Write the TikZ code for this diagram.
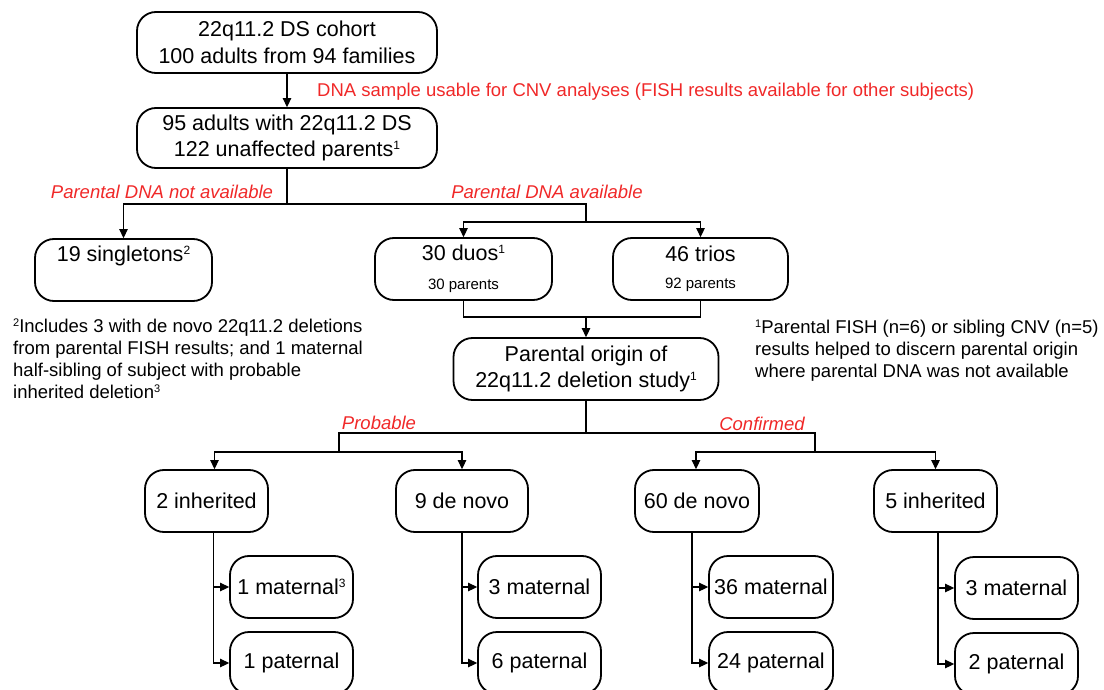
\documentclass[tikz,border=0pt]{standalone}
\usepackage{fontspec}
\setmainfont{Liberation Sans}
\usetikzlibrary{arrows.meta,positioning}
\definecolor{lblred}{HTML}{F02828}

\newcommand\boxsz{\fontsize{21.5}{26.5}\selectfont}
\newcommand\subsz{\fontsize{15}{18}\selectfont}
\newcommand\notesz{\fontsize{18.5}{22}\selectfont}
\newcommand\boxmark[1]{\raisebox{7pt}{\fontsize{12}{12}\selectfont #1}}
\newcommand\notemark[1]{\raisebox{6pt}{\fontsize{11}{11}\selectfont #1}}

\tikzset{
  flowbox/.style={draw, line width=1.8pt, rounded corners=19pt, align=center, inner sep=0pt, font=\boxsz},
  leafbox/.style={flowbox, minimum width=123pt, minimum height=62pt},
  line/.style={line width=1.3pt},
  arr/.style={line, -{Triangle[length=9pt,width=8.5pt]}},
  branchlbl/.style={text=lblred, font=\notesz\itshape, inner sep=1pt},
  footnote/.style={align=left, anchor=north west, inner sep=0pt, font=\notesz},
}

\begin{document}
\begin{tikzpicture}[x=1pt, y=-1pt]
  \clip (0,0) rectangle (1104,690);

  % cohort and samples
  \node[flowbox, minimum width=300pt, minimum height=61pt] (cohort) at (287,42.5) {22q11.2 DS cohort\\100 adults from 94 families};
  \node[flowbox, minimum width=300pt, minimum height=60pt] (adults) at (287,138) {95 adults with 22q11.2 DS\\122 unaffected parents\boxmark{1}};
  \node[anchor=west, text=lblred, font=\notesz, inner sep=0pt] (usable) at (317,92) {DNA sample usable for CNV analyses (FISH results available for other subjects)};

  % family structure
  \node[flowbox, minimum width=177pt, minimum height=62pt] (single) at (123.5,270) {19 singletons\boxmark{2}\\[2pt]{\subsz\phantom{30 parents}}};
  \node[flowbox, minimum width=177pt, minimum height=62pt] (duos) at (463.5,269) {30 duos\boxmark{1}\\[2pt]{\subsz 30 parents}};
  \node[flowbox, minimum width=175pt, minimum height=62pt] (trios) at (700.5,269) {46 trios\\[1pt]{\subsz 92 parents}};
  \node[flowbox, minimum width=265pt, minimum height=62pt] (origin) at (586,369) {Parental origin of\\22q11.2 deletion study\boxmark{1}};

  \node[branchlbl] (noavail) at (162,192) {Parental DNA not available};
  \node[branchlbl] (avail) at (547,192) {Parental DNA available};
  \node[branchlbl] (probable) at (379,423) {Probable};
  \node[branchlbl] (confirmed) at (762,424) {Confirmed};

  % footnotes
  \node[footnote] (note2) at (13,319) {\notemark{2}Includes 3 with de novo 22q11.2 deletions\\from parental FISH results; and 1 maternal\\half-sibling of subject with probable\\inherited deletion\notemark{3}};
  \node[footnote] (note1) at (755,320) {\notemark{1}Parental FISH (n=6) or sibling CNV (n=5)\\results helped to discern parental origin\\where parental DNA was not available};

  % deletion origin
  \node[leafbox] (inh2) at (206.5,501) {2 inherited};
  \node[leafbox, minimum width=132pt] (dn9) at (462,501) {9 de novo};
  \node[leafbox, minimum width=124pt] (dn60) at (697,501) {60 de novo};
  \node[leafbox] (inh5) at (935.5,501) {5 inherited};

  \node[leafbox] (mat1) at (291.5,587) {1 maternal\boxmark{3}};
  \node[leafbox] (pat1) at (291.5,663) {1 paternal};
  \node[leafbox] (mat3) at (539.5,587) {3 maternal};
  \node[leafbox] (pat6) at (539.5,663) {6 paternal};
  \node[leafbox, minimum width=124pt] (mat36) at (771,587) {36 maternal};
  \node[leafbox, minimum width=124pt] (pat24) at (771,663) {24 paternal};
  \node[leafbox] (mat3b) at (1016.5,588) {3 maternal};
  \node[leafbox] (pat2) at (1016.5,664) {2 paternal};

  % connectors
  \coordinate (fork1) at (287,204);
  \coordinate (fork2) at (586,222);
  \coordinate (join1) at (586,317);
  \coordinate (fork3) at (586,433);
  \coordinate (probfork) at (339,452);
  \coordinate (confork) at (815,452);

  \draw[arr] (cohort) -- (adults);
  \draw[line] (adults.south) -- (fork1);
  \draw[arr] (fork1) -| (single.north);
  \draw[line] (fork1) -| (fork2);
  \draw[arr] (fork2) -| (duos.north);
  \draw[arr] (fork2) -| (trios.north);
  \draw[line] (duos.south) |- (join1);
  \draw[line] (trios.south) |- (join1);
  \draw[arr] (join1) -- (origin.north);

  \draw[line] (origin.south) -- (fork3);
  \draw[line] (fork3) -| (probfork);
  \draw[line] (fork3) -| (confork);
  \draw[arr] (probfork) -| ([xshift=8pt]inh2.north);
  \draw[arr] (probfork) -| (dn9.north);
  \draw[arr] (confork) -| ([xshift=-1pt]dn60.north);
  \draw[arr] (confork) -| (inh5.north);

  \draw[arr] ([xshift=7pt]inh2.south) |- (mat1.west);
  \draw[arr] ([xshift=7pt]inh2.south) |- (pat1.west);
  \draw[arr] (dn9.south) |- (mat3.west);
  \draw[arr] (dn9.south) |- (pat6.west);
  \draw[arr] ([xshift=-5pt]dn60.south) |- (mat36.west);
  \draw[arr] ([xshift=-5pt]dn60.south) |- (pat24.west);
  \draw[arr] ([xshift=2.5pt]inh5.south) |- (mat3b.west);
  \draw[arr] ([xshift=2.5pt]inh5.south) |- (pat2.west);
\end{tikzpicture}
\end{document}
